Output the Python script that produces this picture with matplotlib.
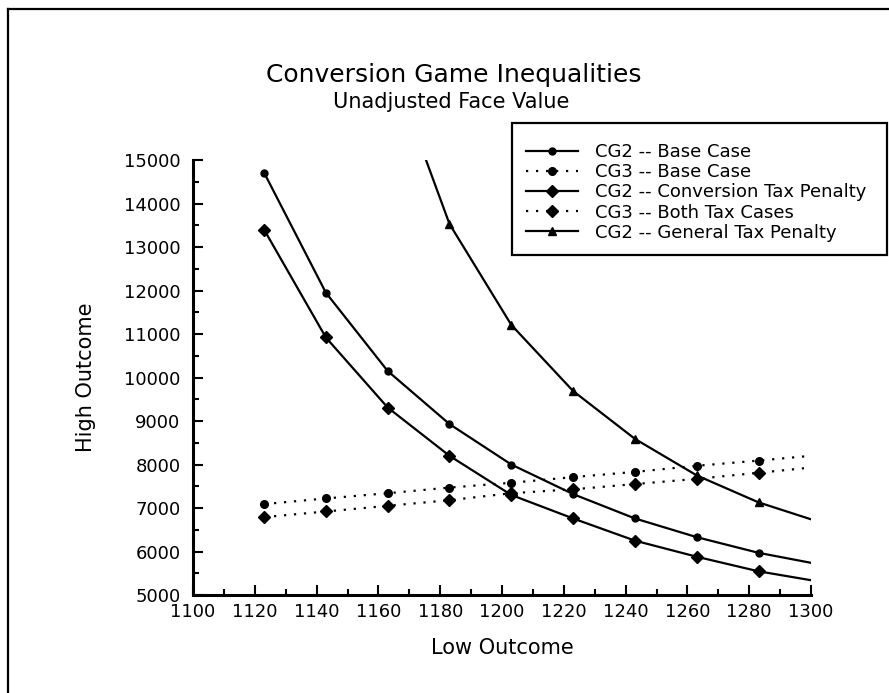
import matplotlib.pyplot as plt
from matplotlib.lines import Line2D
from matplotlib.patches import Rectangle
from matplotlib.ticker import MultipleLocator

# values (last point at 1300 has no marker)
low = [1123, 1143, 1163, 1183, 1203, 1223, 1243, 1263, 1283, 1300]
cg2_base = [14710, 11950, 10150, 8930, 8000, 7320, 6760, 6330, 5970, 5740]
cg3_base = [7090, 7220, 7340, 7470, 7580, 7710, 7830, 7970, 8090, 8200]
cg2_conv = [13400, 10920, 9310, 8200, 7300, 6760, 6250, 5880, 5545, 5340]
cg3_both = [6790, 6920, 7050, 7180, 7340, 7430, 7550, 7670, 7810, 7930]
cg2_gen = [17400, 13530, 11210, 9690, 8590, 7750, 7130, 6740]
low_gen = [1163, 1183, 1203, 1223, 1243, 1263, 1283, 1300]

labels = ["CG2 -- Base Case", "CG3 -- Base Case", "CG2 -- Conversion Tax Penalty",
          "CG3 -- Both Tax Cases", "CG2 -- General Tax Penalty"]

plt.rcParams['font.family'] = ['DejaVu Sans']

fig = plt.figure(figsize=(8.89, 6.93), dpi=100)
ax = fig.add_axes([0.2171, 0.1414, 0.6952, 0.6277])

dots = (0, (1, 3.5))
styles = [
    dict(ls='-', marker='o', ms=5),
    dict(ls=dots, marker='o', ms=5.5),
    dict(ls='-', marker='D', ms=6.5),
    dict(ls=dots, marker='D', ms=6.5),
    dict(ls='-', marker='^', ms=5.5),
]
series = [(low, cg2_base), (low, cg3_base), (low, cg2_conv), (low, cg3_both), (low_gen, cg2_gen)]

handles = []
for (xs, ys), st, lab in zip(series, styles, labels):
    n = len(xs) - 1
    start = 1 if xs is low_gen else 0
    ax.plot(xs, ys, color='black', lw=1.6, ls=st['ls'], marker=st['marker'],
            ms=st['ms'], markevery=list(range(start, n)))
    handles.append(Line2D([], [], color='black', lw=1.6, ls=st['ls'],
                          marker=st['marker'], ms=st['ms']))

ax.set_xlim(1100, 1300)
ax.set_ylim(5000, 15000)
ax.xaxis.set_major_locator(MultipleLocator(20))
ax.xaxis.set_minor_locator(MultipleLocator(10))
ax.yaxis.set_major_locator(MultipleLocator(1000))
ax.yaxis.set_minor_locator(MultipleLocator(500))
ax.tick_params(which='both', direction='in', labelsize=13, width=1.5)
ax.tick_params(which='major', length=7)
ax.tick_params(which='minor', length=4)
ax.tick_params(axis='x', pad=6)
ax.tick_params(axis='y', pad=9)
for s in ['top', 'right']:
    ax.spines[s].set_visible(False)
for s in ['left', 'bottom']:
    ax.spines[s].set_linewidth(2.2)

ax.set_xlabel("Low Outcome", fontsize=15, labelpad=12)
ax.set_ylabel("High Outcome", fontsize=15, labelpad=20)

fig.text(0.51, 1 - 75 / 693, "Conversion Game Inequalities", fontsize=18,
         ha='center', va='center')
fig.text(0.508, 1 - 102 / 693, "Unadjusted Face Value", fontsize=15,
         ha='center', va='center')

# legend box
fig.patches.append(Rectangle((512 / 889, 1 - 255 / 693), 375 / 889, 132 / 693,
                             transform=fig.transFigure, fill=False, lw=1.6,
                             edgecolor='black'))
fig.legend(handles, labels, loc='upper left', bbox_to_anchor=(526 / 889, 1 - 143 / 693),
           frameon=False, fontsize=13, handlelength=2.9, handletextpad=0.9,
           labelspacing=0.12, borderpad=0, borderaxespad=0)

# outer page frame (left and top edges)
fig.add_artist(Line2D([8 / 889, 8 / 889], [0, 1 - 9 / 693], transform=fig.transFigure,
                      color='black', lw=1.6))
fig.add_artist(Line2D([8 / 889, 1], [1 - 9 / 693, 1 - 9 / 693], transform=fig.transFigure,
                      color='black', lw=1.6))

fig.savefig('out.png', dpi=100)
